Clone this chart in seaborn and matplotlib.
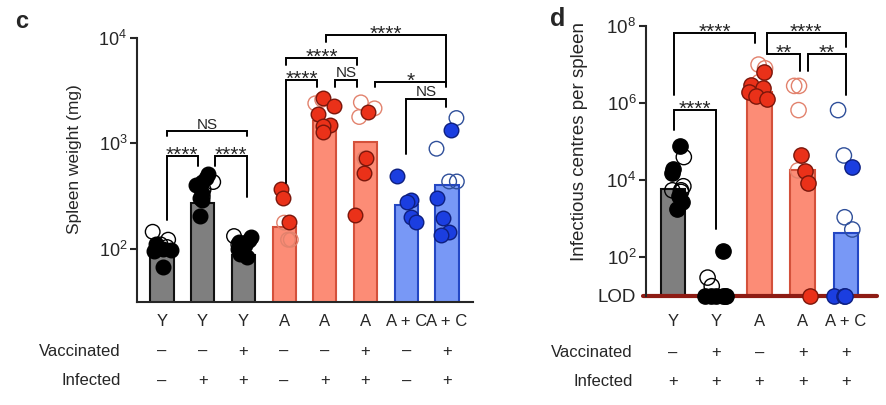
import numpy as np
import pandas as pd
import seaborn as sns
import matplotlib.pyplot as plt
from matplotlib.ticker import NullLocator
from matplotlib.transforms import blended_transform_factory

# ---- panel c: spleen weight (mg) ----
c_groups = ['c1', 'c2', 'c3', 'c4', 'c5', 'c6', 'c7', 'c8']
c_strain = ['Y', 'Y', 'Y', 'A', 'A', 'A', 'A + C', 'A + C']
c_vacc = ['–', '–', '+', '–', '–', '+', '–', '+']
c_inf = ['–', '+', '+', '–', '+', '+', '–', '+']
c_bar = [92, 270, 88, 162, 1620, 1020, 262, 400]
c_solid = [
    [110, 100, 98, 95, 67],
    [507, 470, 434, 400, 340, 300, 293, 206],
    [130, 122, 115, 108, 100, 95, 90, 84],
    [370, 306, 181],
    [2680, 2260, 1920, 1500, 1450, 1290],
    [1970, 730, 520, 210],
    [495, 290, 280, 200, 180],
    [1330, 305, 197, 145, 136],
]
c_open = [
    [145, 122, 110, 104],
    [430, 365, 312],
    [132, 110],
    [177, 122, 122],
    [2600, 2400],
    [2450, 2150, 1780, 720],
    [],
    [1740, 890, 435, 435],
]

# ---- panel d: infectious centres per spleen ----
LOD = 10
d_groups = ['d1', 'd2', 'd3', 'd4', 'd5']
d_strain = ['Y', 'Y', 'A', 'A', 'A + C']
d_vacc = ['–', '+', '–', '+', '+']
d_inf = ['+', '+', '+', '+', '+']
d_bar = [6000, 10, 2.0e6, 1.8e4, 440]
d_solid = [
    [7.6e4, 2.0e4, 1.5e4, 3.9e3, 2.8e3, 1.8e3],
    [143, 10, 10, 10, 10, 10, 10],
    [6.5e6, 3.0e6, 2.5e6, 2.0e6, 1.5e6, 1.3e6],
    [4.4e4, 1.7e4, 8.4e3, 10],
    [2.2e4, 10, 10, 10],
]
d_open = [
    [4.0e4, 7.0e3, 5.5e3, 5.5e3, 5.0e3],
    [30, 18],
    [1.0e7, 8.0e6, 3.5e6],
    [2.8e6, 2.8e6, 6.6e5, 1.8e4],
    [6.6e5, 4.4e4, 1.1e3, 530],
]

# colours by condition
GREY, RED, BLUE = 0, 1, 2
c_kind = [GREY, GREY, GREY, RED, RED, RED, BLUE, BLUE]
d_kind = [GREY, GREY, RED, RED, BLUE]
bar_face = ['#7f7f7f', '#fc8c76', '#7898f6']
bar_edge = ['#111111', '#d4513b', '#2447c4']
dot_face = ['#000000', '#ea3119', '#1b3ee0']
dot_edge = ['#000000', '#7a160b', '#0d1f80']
open_edge = ['#000000', '#e2826d', '#2f4f9a']

sns.set_style('white')
plt.rcParams['font.family'] = ['Liberation Sans', 'DejaVu Sans']
plt.rcParams['axes.linewidth'] = 1.5
np.random.seed(7)


def long_df(groups, values):
    rows = [(g, v) for g, vals in zip(groups, values) for v in vals]
    return pd.DataFrame(rows, columns=['group', 'value'])


def restyle(ax, start, kinds, face, edge):
    # colour each strip collection by the group it sits on
    for coll in ax.collections[start:]:
        offs = coll.get_offsets()
        if len(offs) == 0:
            continue
        k = kinds[int(round(np.mean(offs[:, 0])))]
        coll.set_facecolor(face[k] if face is not None else 'none')
        coll.set_edgecolor(edge[k])


def draw_panel(ax, groups, bars, solid, opened, kinds, size, ylim):
    ax.set_yscale('log')
    sns.barplot(x=groups, y=bars, hue=groups, order=groups, hue_order=groups,
                palette=[bar_face[k] for k in kinds], saturation=1, width=0.57,
                linewidth=1.5, legend=False, ax=ax, zorder=1)
    for patch, k in zip(ax.patches, kinds):
        patch.set_edgecolor(bar_edge[k])
    n = len(ax.collections)
    sns.stripplot(data=long_df(groups, opened), x='group', y='value', order=groups,
                  jitter=0.27, size=size, linewidth=1.0, color='k', ax=ax,
                  clip_on=False, zorder=3)
    restyle(ax, n, kinds, None, open_edge)
    n = len(ax.collections)
    sns.stripplot(data=long_df(groups, solid), x='group', y='value', order=groups,
                  jitter=0.27, size=size, linewidth=1.0, color='k', ax=ax,
                  clip_on=False, zorder=4)
    restyle(ax, n, kinds, dot_face, dot_edge)
    ax.set_ylim(*ylim)
    ax.yaxis.set_minor_locator(NullLocator())
    ax.set_xticks([])
    ax.set_xlabel('')
    ax.tick_params(axis='y', direction='out', length=5, width=1.5, left=True, pad=2)
    sns.despine(ax=ax)


def bracket(ax, x1, x2, top, y1, y2, label):
    ax.plot([x1, x1, x2, x2], [y1, top, top, y2], color='k', lw=1.4,
            clip_on=False, solid_joinstyle='miter', zorder=5)
    star = label.startswith('*')
    ax.annotate(label, ((x1 + x2) / 2, top), xytext=(0, -3.5 if star else 2),
                textcoords='offset points', ha='center', va='baseline',
                fontsize=15 if star else 11, annotation_clip=False)


def text_rows(ax, rows, ys, fig_x, names):
    tr = blended_transform_factory(ax.transData, ax.transAxes)
    for row, y in zip(rows, ys):
        for i, s in enumerate(row):
            ax.text(i, y, s, transform=tr, ha='center', va='center', fontsize=12)
    for name, y in zip(names, ys[1:]):
        yy = ax.transAxes.transform((0, y))[1]
        fy = ax.figure.transFigure.inverted().transform((0, yy))[1]
        ax.figure.text(fig_x, fy, name, ha='right', va='center', fontsize=12)


fig = plt.figure(figsize=(8.87, 4.05), dpi=100)

# panel c
axc = fig.add_axes([137 / 887, 103 / 405, 336 / 887, 264 / 405])
draw_panel(axc, c_groups, c_bar, c_solid, c_open, c_kind, 10.5, (10 ** 1.495, 1e4))
axc.set_xlim(-0.614, 7.64)
axc.set_ylabel('Spleen weight (mg)', fontsize=12.5)
axc.yaxis.set_label_coords(-0.165, 0.54)
axc.tick_params(axis='y', labelsize=13)
bracket(axc, 0.12, 2.09, 1300, 1165, 1165, 'NS')
bracket(axc, 0.12, 0.88, 752, 189, 604, '****')
bracket(axc, 1.30, 2.09, 752, 604, 313, '****')
bracket(axc, 3.05, 3.81, 3981, 425, 3410, '****')
bracket(axc, 4.25, 4.79, 3981, 3410, 3410, 'NS')
bracket(axc, 3.05, 4.79, 6456, 5530, 5530, '****')
bracket(axc, 4.03, 6.98, 10690, 9160, 3600, '****')
bracket(axc, 5.23, 6.98, 3811, 3410, 3410, '*')
bracket(axc, 5.99, 6.98, 2625, 785, 2200, 'NS')
text_rows(axc, [c_strain, c_vacc, c_inf], [-0.072, -0.186, -0.299], 121 / 887,
          ['Vaccinated', 'Infected'])
fig.text(15 / 887, 1 - 21 / 405, 'c', fontsize=17, fontweight='bold', va='center')

# panel d
axd = fig.add_axes([646 / 887, 109 / 405, 231 / 887, 270 / 405])
draw_panel(axd, d_groups, d_bar, d_solid, d_open, d_kind, 11, (LOD, 1e8))
axd.set_xlim(-0.624, 4.72)
axd.spines['bottom'].set_visible(False)
axd.axhline(LOD, xmin=-0.013, xmax=1, color='#8e1c14', lw=3, clip_on=False, zorder=2)
axd.set_yticks([LOD, 1e2, 1e4, 1e6, 1e8])
axd.set_yticklabels(['LOD', '$\\mathdefault{10^{2}}$', '$\\mathdefault{10^{4}}$',
                     '$\\mathdefault{10^{6}}$', '$\\mathdefault{10^{8}}$'])
axd.yaxis.get_major_ticks()[0].tick1line.set_visible(False)
axd.tick_params(axis='y', labelsize=13.5)
axd.set_ylabel('Infectious centres per spleen', fontsize=13.5)
axd.yaxis.set_label_coords(-0.25, 0.574)
bracket(axd, 0.02, 1.90, 6.7e7, 1.67e6, 3.7e7, '****')
bracket(axd, 2.17, 4.0, 6.7e7, 1.93e7, 2.9e7, '****')
bracket(axd, 2.17, 2.94, 1.93e7, 1.93e7, 7e6, '**')
bracket(axd, 3.12, 4.0, 1.93e7, 7e6, 1.67e6, '**')
bracket(axd, 0.02, 0.99, 6.5e5, 2.07e5, 530, '****')
text_rows(axd, [d_strain, d_vacc, d_inf], [-0.093, -0.211, -0.315], 633 / 887,
          ['Vaccinated', 'Infected'])
fig.text(550 / 887, 1 - 19 / 405, 'd', fontsize=18, fontweight='bold', va='center')

fig.savefig('out.png', dpi=100)
